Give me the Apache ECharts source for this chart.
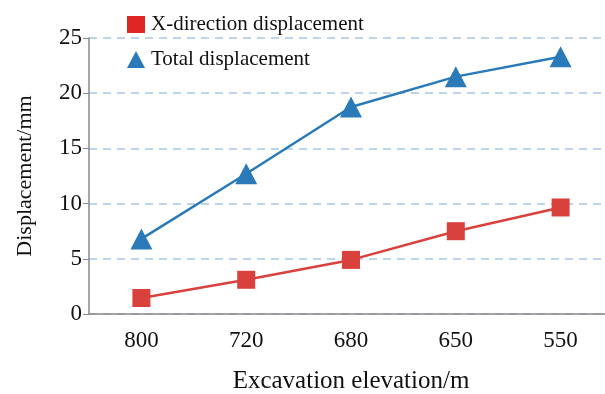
<!DOCTYPE html>
<html>
<head>
<meta charset="utf-8">
<script src="https://cdn.jsdelivr.net/npm/echarts@6/dist/echarts.min.js"></script>
<style>html,body{margin:0;padding:0;background:#fff;}#c{width:605px;height:394px;}</style>
</head>
<body>
<div id="c"></div>
<script>
var categories = ['800', '720', '680', '650', '550'];
var xDisp = [1.45, 3.1, 4.9, 7.5, 9.65];
var totalDisp = [6.8, 12.7, 18.75, 21.5, 23.3];
var yTicks = [0, 5, 10, 15, 20, 25];

var FONT = '"Liberation Serif", "DejaVu Serif", serif';
var RED = '#d9413d';
var BLUE = '#2a7ab9';
var chart = echarts.init(document.getElementById('c'));
chart.setOption({
  animation: false,
  textStyle: { fontFamily: FONT },
  grid: { left: 89, top: 38, width: 524, height: 276, containLabel: false, outerBoundsMode: 'none' },
  legend: {
    orient: 'vertical',
    left: 122, top: 9,
    itemGap: 14,
    itemWidth: 18, itemHeight: 17,
    textStyle: { fontFamily: FONT, fontSize: 21, color: '#111', padding: [0, 0, 0, 1] },
    data: [
      { name: 'X-direction displacement', icon: 'rect', itemStyle: { color: '#e02525' } },
      { name: 'Total displacement', icon: 'triangle' }
    ]
  },
  xAxis: {
    type: 'category',
    data: categories,
    boundaryGap: true,
    name: 'Excavation elevation/m',
    nameLocation: 'middle',
    nameGap: 55,
    nameTextStyle: { fontFamily: FONT, fontSize: 25, color: '#111' },
    axisLine: { lineStyle: { color: '#888', width: 1.5 } },
    axisTick: { alignWithLabel: true, length: 6, lineStyle: { color: '#888' } },
    axisLabel: { fontFamily: FONT, fontSize: 23, color: '#111', margin: 15 },
    splitLine: { show: false }
  },
  yAxis: {
    type: 'value',
    min: yTicks[0], max: yTicks[yTicks.length - 1], interval: 5,
    name: 'Displacement/mm',
    nameLocation: 'middle',
    nameGap: 53,
    nameTextStyle: { fontFamily: FONT, fontSize: 22, color: '#111' },
    axisLine: { show: true, lineStyle: { color: '#888', width: 1.5 } },
    axisTick: { show: true, length: 6, lineStyle: { color: '#888' } },
    axisLabel: { fontFamily: FONT, fontSize: 23, color: '#111', margin: 7 },
    splitLine: { show: true, lineStyle: { type: [8, 6], color: '#a9c7e2', width: 1.5 } }
  },
  series: [
    {
      name: 'X-direction displacement',
      type: 'line',
      data: xDisp,
      symbol: 'rect', symbolSize: 18,
      lineStyle: { color: RED, width: 2.5 },
      itemStyle: { color: RED },
      z: 3
    },
    {
      name: 'Total displacement',
      type: 'line',
      data: totalDisp,
      symbol: 'triangle', symbolSize: [22, 21],
      lineStyle: { color: BLUE, width: 2.5 },
      itemStyle: { color: BLUE },
      z: 3
    }
  ]
});
</script>
</body>
</html>
